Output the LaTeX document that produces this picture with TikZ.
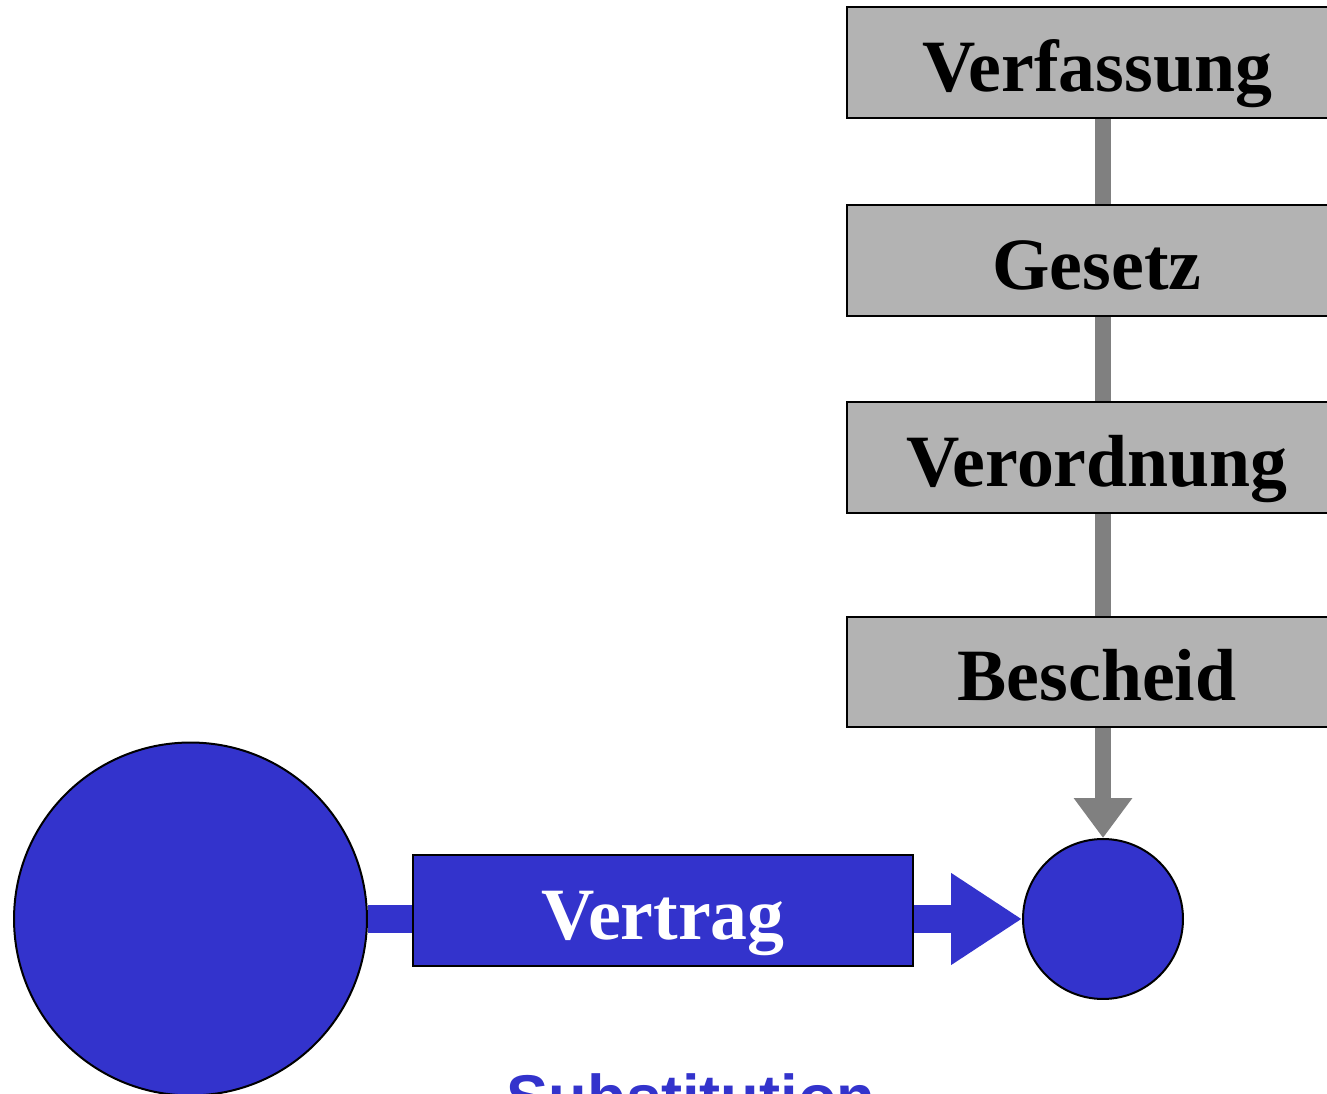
\documentclass[tikz,border=0pt]{standalone}
\usepackage{fontspec}
\setmainfont{Liberation Serif}
\setsansfont{Liberation Sans}
\usetikzlibrary{arrows.meta}
\definecolor{normblue}{HTML}{3333CC}
\definecolor{boxgray}{HTML}{B3B3B3}
\definecolor{linkgray}{HTML}{808080}
\tikzset{
  normbox/.style={draw=black, line width=0.4mm, fill=boxgray, minimum width=10cm,
    minimum height=2.22cm, inner sep=0pt, text height=11.6mm, text depth=0pt,
    font=\fontsize{42}{50}\selectfont\bfseries},
  dealbox/.style={normbox, fill=normblue, text=white},
  party/.style={circle, draw=black, line width=0.4mm, fill=normblue, inner sep=0pt},
  graylink/.style={draw=linkgray, line width=3.2mm},
  bluelink/.style={draw=normblue, line width=5.6mm}
}
\begin{document}
\begin{tikzpicture}[x=0.02cm,y=0.02cm]
  \useasboundingbox (0,0) rectangle (1327,1094);
  \clip (0,0) rectangle (1327,1094);
  % hierarchy of norms (right)
  \node[normbox] (verfassung) at (1097,1031) {Verfassung};
  \node[normbox] (gesetz) at (1097,833.5) {Gesetz};
  \node[normbox] (verordnung) at (1097,636.5) {Verordnung};
  \node[normbox] (bescheid) at (1097,422) {Bescheid};
  % parties and contract (bottom)
  \node[party, minimum size=7.06cm] (big) at (190.5,175) {};
  \node[party, minimum size=3.2cm] (dot) at (1103,175) {};
  \node[dealbox] (vertrag) at (663,183.5) {Vertrag};
  \node[font=\sffamily\bfseries\fontsize{36}{40}\selectfont, text=normblue, anchor=base]
    (subst) at (691,-26) {Substitution};
  % connectors
  \draw[graylink] (verfassung.south -| dot.north) -- (gesetz.north -| dot.north);
  \draw[graylink] (gesetz.south -| dot.north) -- (verordnung.north -| dot.north);
  \draw[graylink] (verordnung.south -| dot.north) -- (bescheid.north -| dot.north);
  \draw[graylink, -{Triangle[width=11.2mm, length=8mm]}] (bescheid.south -| dot.north) -- (dot.north);
  \draw[bluelink] (big.east) -- (big.east -| vertrag.west);
  \draw[bluelink, -{Triangle[width=17.4mm, length=14.2mm]}] (vertrag.east |- dot.west) -- (dot.west);
\end{tikzpicture}
\end{document}
